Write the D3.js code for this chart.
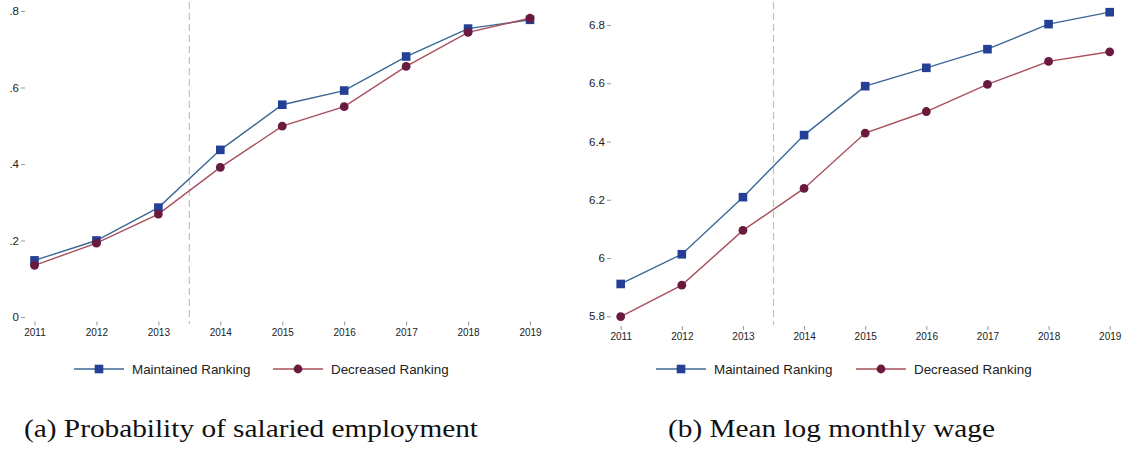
<!DOCTYPE html>
<html><head><meta charset="utf-8">
<script src="https://cdn.jsdelivr.net/npm/d3@7"></script>
<style>body{margin:0;background:#fff}svg{display:block}</style>
</head><body>
<svg id="c" width="1128" height="452"></svg>
<script>
const years = [2011,2012,2013,2014,2015,2016,2017,2018,2019];
const empMaintained = [0.148,0.200,0.286,0.437,0.555,0.592,0.681,0.754,0.777];
const empDecreased  = [0.135,0.193,0.269,0.391,0.499,0.550,0.655,0.744,0.781];
const wageMaintained = [5.911,6.013,6.209,6.422,6.590,6.653,6.717,6.803,6.844];
const wageDecreased  = [5.799,5.907,6.095,6.239,6.429,6.503,6.596,6.675,6.708];
const empTicks = [0,0.2,0.4,0.6,0.8];
const empTickLabels = ["0",".2",".4",".6",".8"];
const wageTicks = [5.8,6.0,6.2,6.4,6.6,6.8];
const wageTickLabels = ["5.8","6","6.2","6.4","6.6","6.8"];
const seriesNames = ["Maintained Ranking","Decreased Ranking"];
const captions = ["(a) Probability of salaried employment","(b) Mean log monthly wage"];
const treatBreak = 2013.5;

const svg = d3.select("#c");
const blueLine = "#3b6796", blueMark = "#233f96";
const redLine = "#a8505a", redMark = "#6a1a3c";

function panel(cfg){
  const g = svg.append("g");
  const x = d3.scaleLinear().domain([2011,2019]).range(cfg.xr);
  const y = d3.scaleLinear().domain(cfg.yd).range(cfg.yr);
  // y axis
  const ya = g.append("g").attr("transform",`translate(${cfg.yAxisX},0)`)
    .call(d3.axisLeft(y).tickValues(cfg.ticks).tickFormat((d,i)=>cfg.tickLabels[i]).tickSize(4).tickPadding(2));
  ya.select(".domain").remove();
  ya.selectAll("line").attr("stroke","#999");
  ya.selectAll("text").attr("font-family","Liberation Sans, Arial, sans-serif").attr("font-size","11.5px").attr("fill","#222");
  // x axis
  const xa = g.append("g").attr("transform",`translate(0,${cfg.xAxisY})`)
    .call(d3.axisBottom(x).tickValues(years).tickFormat(d3.format("d")).tickSize(4).tickPadding(3));
  xa.select(".domain").remove();
  xa.selectAll("line").attr("stroke","#999");
  xa.selectAll("text").attr("font-family","Liberation Sans, Arial, sans-serif").attr("font-size","10px").attr("fill","#222");
  // dashed break
  g.append("line").attr("x1",x(treatBreak)).attr("x2",x(treatBreak))
    .attr("y1",2).attr("y2",cfg.dashEnd)
    .attr("stroke","#c4c0bc").attr("stroke-width",1.2).attr("stroke-dasharray","7,4");
  const line = d3.line().x((d,i)=>x(years[i])).y(d=>y(d));
  g.append("path").datum(cfg.m).attr("d",line).attr("fill","none").attr("stroke",blueLine).attr("stroke-width",1.4);
  g.append("path").datum(cfg.d).attr("d",line).attr("fill","none").attr("stroke",redLine).attr("stroke-width",1.4);
  g.selectAll(".sq").data(cfg.m).join("rect")
    .attr("x",(d,i)=>x(years[i])-4.3).attr("y",d=>y(d)-4.3).attr("width",8.6).attr("height",8.6).attr("fill",blueMark);
  g.selectAll(".ci").data(cfg.d).join("circle")
    .attr("cx",(d,i)=>x(years[i])).attr("cy",d=>y(d)).attr("r",4.4).attr("fill",redMark);
  // legend
  const L = cfg.leg, ly = 369;
  g.append("line").attr("x1",L[0]).attr("x2",L[0]+50).attr("y1",ly).attr("y2",ly).attr("stroke",blueLine).attr("stroke-width",1.4);
  g.append("rect").attr("x",L[0]+25-4.3).attr("y",ly-4.3).attr("width",8.6).attr("height",8.6).attr("fill",blueMark);
  g.append("text").attr("x",L[0]+58).attr("y",ly+5).text(seriesNames[0])
    .attr("font-family","Liberation Sans, Arial, sans-serif").attr("font-size","13.4px").attr("fill","#222");
  g.append("line").attr("x1",L[1]).attr("x2",L[1]+50).attr("y1",ly).attr("y2",ly).attr("stroke",redLine).attr("stroke-width",1.4);
  g.append("circle").attr("cx",L[1]+25).attr("cy",ly).attr("r",4.4).attr("fill",redMark);
  g.append("text").attr("x",L[1]+58).attr("y",ly+5).text(seriesNames[1])
    .attr("font-family","Liberation Sans, Arial, sans-serif").attr("font-size","13.4px").attr("fill","#222");
  // caption
  g.append("text").attr("x",cfg.capX).attr("y",437).attr("text-anchor","middle").text(cfg.caption)
    .attr("font-family","Liberation Serif, Times New Roman, serif").attr("font-size","25.5px").attr("fill","#111")
    .attr("textLength",cfg.capW).attr("lengthAdjust","spacingAndGlyphs");
}

panel({xr:[34.5,530], yd:[0,0.8], yr:[317,11], ticks:empTicks, tickLabels:empTickLabels,
  yAxisX:25, xAxisY:321.5, dashEnd:324, m:empMaintained, d:empDecreased,
  leg:[74,273], capX:251, capW:454, caption:captions[0]});
panel({xr:[620.7,1109.7], yd:[5.8,6.8], yr:[316.3,25], ticks:wageTicks, tickLabels:wageTickLabels,
  yAxisX:611, xAxisY:326, dashEnd:325, m:wageMaintained, d:wageDecreased,
  leg:[656,856], capX:831.5, capW:327, caption:captions[1]});
</script>
</body></html>
